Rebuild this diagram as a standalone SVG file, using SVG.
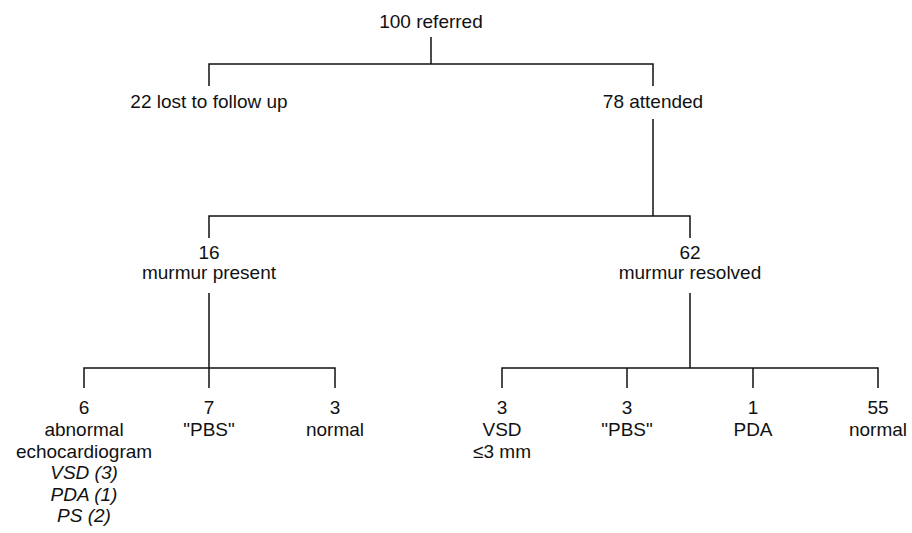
<svg xmlns="http://www.w3.org/2000/svg" width="912" height="533" viewBox="0 0 912 533">
<style>
text{font-family:"Liberation Sans",Arial,sans-serif;font-size:19px;fill:#111;text-anchor:middle}
.i{font-style:italic}
.c{fill:none;stroke:#111;stroke-width:1.5}
</style>
<rect width="912" height="533" fill="#fff"/>
<g id="connectors" class="c">
<path d="M431 37V64M209 86V64H653V86"/>
<path d="M653 119V216M209 238V216H690V238"/>
<path d="M209 293V368M84 388V368H335V388M209 368V388"/>
<path d="M690 293V368M502 388V368H878V388M627 368V388M753 368V388"/>
</g>
<g id="n-referred"><text x="431" y="28">100 referred</text></g>
<g id="n-lost"><text x="209" y="108">22 lost to follow up</text></g>
<g id="n-attended"><text x="653" y="108">78 attended</text></g>
<g id="n-present"><text x="209" y="259">16</text><text x="209" y="279">murmur present</text></g>
<g id="n-resolved"><text x="690" y="259">62</text><text x="690" y="279">murmur resolved</text></g>
<g id="n-abnormal"><text x="84" y="414">6</text><text x="84" y="436">abnormal</text><text x="84" y="458">echocardiogram</text><text class="i" x="84" y="479">VSD (3)</text><text class="i" x="84" y="501">PDA (1)</text><text class="i" x="84" y="522">PS (2)</text></g>
<g id="n-pbs1"><text x="209" y="414">7</text><text x="209" y="436">"PBS"</text></g>
<g id="n-normal1"><text x="335" y="414">3</text><text x="335" y="436">normal</text></g>
<g id="n-vsd"><text x="502" y="414">3</text><text x="502" y="436">VSD</text><text x="502" y="458">≤3 mm</text></g>
<g id="n-pbs2"><text x="627" y="414">3</text><text x="627" y="436">"PBS"</text></g>
<g id="n-pda"><text x="753" y="414">1</text><text x="753" y="436">PDA</text></g>
<g id="n-normal2"><text x="878" y="414">55</text><text x="878" y="436">normal</text></g>
</svg>
